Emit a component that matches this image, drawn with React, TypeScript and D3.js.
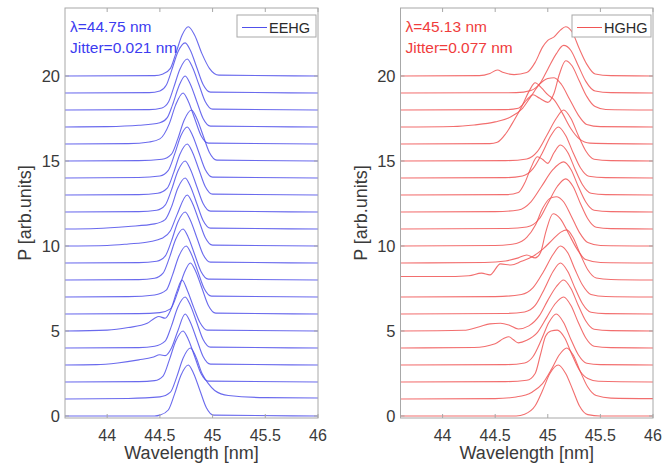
import React from "react";
import * as d3 from "d3";

// wavelength [nm] / power [arb.units] knots, one list per shot (offset by index)
const eehgShots: number[][][] = [
  [[43.6,0],[44.45,0],[44.5,0.05],[44.58,0.35],[44.64,1.3],[44.7,2.4],[44.77,3.0],[44.82,2.5],[44.88,1.5],[44.94,0.5],[45.01,0.05],[46,0]],
  [[43.6,0],[44.2,0.03],[44.5,0.12],[44.6,0.4],[44.66,1.3],[44.72,2.4],[44.79,3.0],[44.84,2.5],[44.9,1.5],[44.96,0.9],[45.02,0.5],[45.15,0.2],[45.5,0.08],[46,0.06]],
  [[43.6,0],[44.3,0.02],[44.45,0.08],[44.53,0.35],[44.59,1.3],[44.65,2.4],[44.72,3.0],[44.77,2.5],[44.83,1.5],[44.89,0.5],[44.96,0.05],[46,0]],
  [[43.6,0],[43.9,0.02],[44.1,0.12],[44.3,0.3],[44.43,0.45],[44.5,0.6],[44.55,0.55],[44.61,1.0],[44.67,2.0],[44.74,3.0],[44.79,2.5],[44.85,1.5],[44.91,0.5],[44.98,0.05],[46,0]],
  [[43.6,0],[44.3,0.02],[44.45,0.1],[44.55,0.4],[44.61,1.3],[44.67,2.4],[44.74,3.0],[44.79,2.5],[44.85,1.5],[44.91,0.5],[44.98,0.05],[46,0]],
  [[43.6,0],[44.0,0.05],[44.2,0.2],[44.38,0.45],[44.45,0.75],[44.49,0.85],[44.55,0.75],[44.6,1.2],[44.66,2.3],[44.71,3.0],[44.76,2.4],[44.82,1.4],[44.88,0.5],[44.95,0.05],[46,0]],
  [[43.6,0],[44.3,0.02],[44.5,0.08],[44.6,0.3],[44.67,1.3],[44.73,2.4],[44.79,3.0],[44.84,2.5],[44.9,1.5],[44.96,0.5],[45.03,0.05],[46,0]],
  [[43.6,0],[44.2,0.02],[44.45,0.12],[44.56,0.4],[44.62,1.3],[44.68,2.4],[44.75,3.0],[44.8,2.5],[44.86,1.5],[44.92,0.5],[44.99,0.05],[46,0]],
  [[43.6,0],[44.3,0.02],[44.45,0.1],[44.53,0.4],[44.59,1.3],[44.65,2.4],[44.72,3.0],[44.77,2.5],[44.83,1.5],[44.89,0.5],[44.96,0.05],[46,0]],
  [[43.6,0],[44.3,0.02],[44.47,0.1],[44.55,0.4],[44.61,1.3],[44.67,2.4],[44.74,3.0],[44.79,2.5],[44.85,1.5],[44.91,0.5],[44.98,0.05],[46,0]],
  [[43.6,0],[44.0,0.03],[44.2,0.12],[44.4,0.25],[44.52,0.45],[44.6,0.9],[44.66,1.8],[44.76,3.0],[44.81,2.5],[44.87,1.5],[44.93,0.5],[45.0,0.05],[46,0]],
  [[43.6,0],[43.9,0.03],[44.2,0.15],[44.45,0.3],[44.55,0.55],[44.61,1.3],[44.67,2.4],[44.74,3.0],[44.79,2.5],[44.85,1.5],[44.91,0.5],[44.98,0.05],[46,0]],
  [[43.6,0],[44.3,0.02],[44.47,0.1],[44.55,0.4],[44.61,1.3],[44.67,2.4],[44.74,3.0],[44.79,2.5],[44.85,1.5],[44.91,0.5],[44.98,0.05],[46,0]],
  [[43.6,0],[44.3,0.02],[44.48,0.1],[44.57,0.4],[44.63,1.3],[44.69,2.4],[44.76,3.0],[44.81,2.5],[44.87,1.5],[44.93,0.5],[45.0,0.05],[46,0]],
  [[43.6,0],[44.3,0.03],[44.5,0.12],[44.58,0.45],[44.64,1.4],[44.7,2.5],[44.76,3.0],[44.81,2.5],[44.87,1.5],[44.93,0.5],[45.0,0.05],[46,0]],
  [[43.6,0],[44.3,0.02],[44.52,0.1],[44.61,0.4],[44.67,1.3],[44.73,2.4],[44.8,3.0],[44.85,2.5],[44.91,1.5],[44.97,0.5],[45.04,0.05],[46,0]],
  [[43.6,0],[44.2,0.02],[44.4,0.12],[44.5,0.3],[44.59,1.2],[44.65,2.3],[44.72,3.0],[44.77,2.5],[44.83,1.5],[44.89,0.5],[44.96,0.05],[46,0]],
  [[43.6,0],[44.0,0.02],[44.3,0.1],[44.5,0.25],[44.57,0.55],[44.62,1.3],[44.68,2.4],[44.74,3.0],[44.79,2.5],[44.85,1.5],[44.91,0.5],[44.98,0.05],[46,0]],
  [[43.6,0],[44.4,0.02],[44.52,0.12],[44.58,0.45],[44.63,1.3],[44.69,2.4],[44.76,3.0],[44.81,2.5],[44.87,1.5],[44.93,0.5],[45.0,0.05],[46,0]],
  [[43.6,0],[44.4,0.02],[44.5,0.12],[44.56,0.45],[44.61,1.3],[44.67,2.4],[44.74,2.95],[44.79,2.5],[44.85,1.5],[44.91,0.5],[44.98,0.05],[46,0]],
  [[43.6,0],[44.45,0.02],[44.53,0.12],[44.6,0.45],[44.65,1.3],[44.71,2.4],[44.77,2.9],[44.83,2.4],[44.9,1.3],[44.97,0.45],[45.06,0.05],[46,0]],
];

const hghgShots: number[][][] = [
  [[43.6,0],[44.7,0],[44.78,0.1],[44.88,0.6],[44.95,1.5],[45.02,2.5],[45.1,3.0],[45.17,2.5],[45.24,1.5],[45.3,0.6],[45.38,0.08],[45.5,0],[46,0]],
  [[43.6,0],[44.5,0.02],[44.7,0.12],[44.85,0.4],[44.95,0.9],[45.04,1.8],[45.11,2.6],[45.18,3.0],[45.24,2.6],[45.31,1.6],[45.38,0.7],[45.46,0.2],[45.6,0.05],[46,0.02]],
  [[43.6,0],[44.6,0.02],[44.8,0.1],[44.88,0.5],[44.93,1.6],[44.98,2.7],[45.03,3.0],[45.09,3.05],[45.16,2.6],[45.23,1.6],[45.3,0.7],[45.38,0.2],[45.48,0.04],[46,0]],
  [[43.6,0],[44.6,0.02],[44.78,0.12],[44.86,0.5],[44.94,1.5],[45.01,2.5],[45.08,3.0],[45.15,2.5],[45.22,1.5],[45.29,0.6],[45.37,0.1],[45.5,0.02],[46,0]],
  [[43.6,0],[44.3,0.03],[44.5,0.25],[44.58,0.55],[44.63,0.66],[44.67,0.5],[44.72,0.3],[44.8,0.45],[44.9,0.9],[44.99,1.8],[45.07,2.6],[45.15,3.0],[45.22,2.5],[45.29,1.5],[45.36,0.6],[45.44,0.1],[45.6,0.02],[46,0]],
  [[43.6,0],[44.2,0.04],[44.35,0.25],[44.45,0.42],[44.55,0.45],[44.63,0.35],[44.72,0.12],[44.82,0.3],[44.92,0.9],[45.0,1.8],[45.08,2.6],[45.15,3.0],[45.22,2.5],[45.29,1.5],[45.36,0.6],[45.44,0.1],[45.6,0.02],[46,0]],
  [[43.6,0],[44.6,0.03],[44.78,0.12],[44.88,0.5],[44.97,1.5],[45.05,2.5],[45.12,3.0],[45.19,2.5],[45.26,1.5],[45.33,0.6],[45.41,0.1],[45.55,0.02],[46,0]],
  [[43.6,0],[44.5,0.02],[44.75,0.15],[44.86,0.55],[44.96,1.5],[45.05,2.5],[45.12,3.0],[45.19,2.6],[45.26,1.6],[45.33,0.7],[45.41,0.15],[45.55,0.03],[46,0]],
  [[43.6,0.2],[44.0,0.2],[44.25,0.25],[44.37,0.4],[44.45,0.3],[44.55,0.95],[44.65,0.88],[44.75,1.1],[44.86,1.4],[44.95,1.8],[45.05,2.4],[45.12,2.8],[45.18,2.95],[45.24,2.5],[45.31,1.5],[45.38,0.6],[45.46,0.12],[45.6,0.03],[46,0]],
  [[43.6,0],[44.4,0.03],[44.6,0.12],[44.72,0.3],[44.8,0.47],[44.88,0.3],[44.93,0.6],[44.98,1.8],[45.05,2.9],[45.12,2.6],[45.2,1.7],[45.28,0.8],[45.36,0.2],[45.5,0.03],[46,0]],
  [[43.6,0],[44.5,0.03],[44.7,0.15],[44.8,0.5],[44.88,1.2],[44.95,2.2],[45.02,2.8],[45.08,2.9],[45.15,2.6],[45.22,1.8],[45.3,0.8],[45.38,0.2],[45.5,0.03],[46,0]],
  [[43.6,0],[44.6,0.03],[44.8,0.12],[44.92,0.6],[45.0,1.5],[45.09,2.5],[45.17,2.95],[45.24,2.5],[45.31,1.5],[45.38,0.6],[45.46,0.1],[45.6,0.02],[46,0]],
  [[43.6,0],[44.5,0.02],[44.72,0.12],[44.84,0.6],[44.94,1.5],[45.05,2.5],[45.15,2.95],[45.22,2.5],[45.29,1.5],[45.36,0.6],[45.44,0.1],[45.6,0.02],[46,0]],
  [[43.6,0],[44.6,0.02],[44.72,0.15],[44.78,0.7],[44.84,1.6],[44.9,2.25],[44.95,2.1],[45.0,1.86],[45.06,2.5],[45.12,2.94],[45.19,2.5],[45.26,1.5],[45.33,0.6],[45.41,0.1],[45.55,0.02],[46,0]],
  [[43.6,0],[44.6,0.02],[44.76,0.12],[44.86,0.55],[44.95,1.5],[45.03,2.5],[45.1,3.0],[45.17,2.5],[45.24,1.5],[45.31,0.6],[45.39,0.1],[45.55,0.02],[46,0]],
  [[43.6,0],[44.6,0.02],[44.8,0.12],[44.9,0.55],[44.99,1.5],[45.08,2.5],[45.15,3.0],[45.22,2.5],[45.29,1.5],[45.36,0.6],[45.44,0.1],[45.6,0.02],[46,0]],
  [[43.6,0],[44.45,0.02],[44.52,0.1],[44.6,0.6],[44.68,1.4],[44.76,2.3],[44.83,3.2],[44.88,3.6],[44.94,3.3],[45.0,2.9],[45.06,2.6],[45.14,1.8],[45.22,0.9],[45.3,0.3],[45.4,0.05],[46,0]],
  [[43.6,0],[44.1,0.03],[44.3,0.12],[44.5,0.3],[44.65,0.6],[44.76,1.1],[44.84,1.8],[44.92,2.5],[45.0,2.85],[45.06,2.9],[45.13,2.5],[45.21,1.6],[45.29,0.7],[45.37,0.15],[45.5,0.02],[46,0]],
  [[43.6,0],[44.6,0.02],[44.72,0.1],[44.8,0.6],[44.86,0.9],[44.92,0.7],[45.0,0.45],[45.06,1.0],[45.11,2.1],[45.17,2.9],[45.23,2.6],[45.3,1.7],[45.37,0.8],[45.45,0.2],[45.55,0.03],[46,0]],
  [[43.6,0],[44.7,0.02],[44.84,0.15],[44.93,0.6],[45.0,1.4],[45.08,2.3],[45.15,2.8],[45.22,2.5],[45.29,1.6],[45.36,0.7],[45.45,0.12],[45.6,0.02],[46,0]],
  [[43.6,0],[44.35,0.02],[44.45,0.15],[44.52,0.35],[44.58,0.2],[44.68,0.08],[44.8,0.2],[44.88,0.8],[44.95,1.7],[45.0,2.1],[45.06,2.3],[45.12,2.7],[45.17,2.9],[45.23,2.6],[45.3,1.6],[45.37,0.7],[45.45,0.12],[45.6,0.02],[46,0]],
];

const xTicks = [44, 44.5, 45, 45.5, 46];
const yTicks = [0, 5, 10, 15, 20];

const panels = [
  { name: "EEHG", shots: eehgShots, color: "#5050ea", textColor: "#3c3cf0", lambda: "44.75", jitter: "0.021", left: 65, right: 318 },
  { name: "HGHG", shots: hghgShots, color: "#f05555", textColor: "#f03c3c", lambda: "45.13", jitter: "0.077", left: 400.5, right: 653 },
];

const font = "'Liberation Sans', Arial, Helvetica, sans-serif";
const axisColor = "#a8a8a8";
const top = 8, bottom = 418;

function Panel({ p }: { p: (typeof panels)[number] }) {
  const x = d3.scaleLinear().domain([43.6, 46]).range([p.left, p.right]);
  const y = d3.scaleLinear().domain([-0.12, 24]).range([bottom, top]);
  const midX = (p.left + p.right) / 2;
  const tl = 4;

  return (
    <g>
      {p.shots.map((shot, i) => {
        const line = d3
          .line<number[]>()
          .x((d) => x(d[0]))
          .y((d) => y(d[1] + i))
          .curve(d3.curveMonotoneX);
        return <path key={i} d={line(shot) || ""} fill="none" stroke={p.color} strokeWidth={1.1} strokeOpacity={0.85} />;
      })}

      {/* axes box */}
      <rect x={p.left} y={top} width={p.right - p.left} height={bottom - top} fill="none" stroke={axisColor} strokeWidth={1} />
      {xTicks.map((t) => (
        <g key={"x" + t}>
          <line x1={x(t)} x2={x(t)} y1={bottom} y2={bottom - tl} stroke={axisColor} />
          <line x1={x(t)} x2={x(t)} y1={top} y2={top + tl} stroke={axisColor} />
          <text x={x(t)} y={bottom + 23} textAnchor="middle" fontSize={16} fill="#3a3a3a" fontFamily={font}>
            {t}
          </text>
        </g>
      ))}
      {yTicks.map((t) => (
        <g key={"y" + t}>
          <line x1={p.left} x2={p.left + tl} y1={y(t)} y2={y(t)} stroke={axisColor} />
          <line x1={p.right} x2={p.right - tl} y1={y(t)} y2={y(t)} stroke={axisColor} />
          <text x={p.left - 5} y={y(t) + 6} textAnchor="end" fontSize={16.5} fill="#3a3a3a" fontFamily={font}>
            {t}
          </text>
        </g>
      ))}

      <text x={midX} y={459} textAnchor="middle" fontSize={18} fill="#3a3a3a" fontFamily={font}>
        Wavelength [nm]
      </text>
      <text
        transform={`translate(${p.left - 34},${(top + bottom) / 2}) rotate(-90)`}
        textAnchor="middle"
        fontSize={18}
        fill="#3a3a3a"
        fontFamily={font}
      >
        P [arb.units]
      </text>

      {/* annotations */}
      <text x={p.left + 5} y={32} fontSize={15.5} fill={p.textColor} fontFamily={font}>
        λ={p.lambda} nm
      </text>
      <text x={p.left + 5} y={53} fontSize={15.5} fill={p.textColor} fontFamily={font}>
        Jitter={p.jitter} nm
      </text>

      {/* legend */}
      <rect x={p.right - 81} y={15} width={79} height={22} fill="#fff" stroke={axisColor} />
      <line x1={p.right - 76} x2={p.right - 51} y1={27.5} y2={27.5} stroke={p.color} strokeWidth={1} />
      <text x={p.right - 49} y={33} fontSize={14.5} fill="#2a2a2a" fontFamily={font}>
        {p.name}
      </text>
    </g>
  );
}

export default function App() {
  return (
    <svg width={664} height={471} style={{ position: "absolute", left: 0, top: 0, background: "#fff" }}>
      {panels.map((p) => (
        <Panel key={p.name} p={p} />
      ))}
    </svg>
  );
}
